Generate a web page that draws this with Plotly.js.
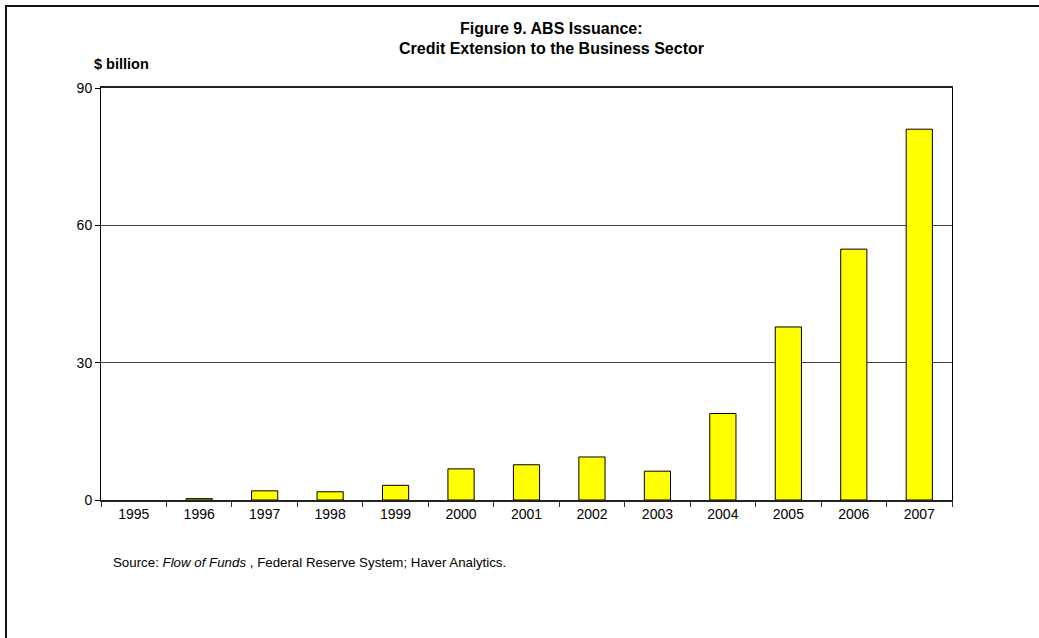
<!DOCTYPE html>
<html>
<head>
<meta charset="utf-8">
<script src="https://cdn.plot.ly/plotly-3.0.1.min.js"></script>
<style>html,body{margin:0;padding:0;background:#fff;}#chart{width:1039px;height:638px;}</style>
</head>
<body>
<div id="chart"></div>
<script>
const years = ["1995","1996","1997","1998","1999","2000","2001","2002","2003","2004","2005","2006","2007"];
const issuance = [0, 0.3, 2.0, 1.8, 3.2, 6.8, 7.7, 9.4, 6.3, 18.9, 37.8, 54.8, 81.0];
const yTicks = [0, 30, 60, 90];
const titleLines = ["Figure 9. ABS Issuance:", "Credit Extension to the Business Sector"];
const unitText = "$ billion";
const sourceText = "Source: <i>Flow of Funds</i> , Federal Reserve System; Haver Analytics.";

const W = 1039, H = 638;
const L = 101, R = 87, T = 88, B = 138;
const pw = W - L - R, ph = H - T - B;
const px = x => (x - L) / pw;
const py = y => (H - B - y) / ph;

const font = "Arial, 'Liberation Sans', sans-serif";
const titleY = [29, 48.5];

Plotly.newPlot("chart", [{
  type: "bar",
  x: years,
  y: issuance,
  marker: {color: "#FFFF00", line: {color: "#000000", width: issuance.map(v => v > 0 ? 1 : 0)}},
  width: 0.4,
  hoverinfo: "x+y"
}], {
  width: W, height: H,
  margin: {l: L, r: R, t: T, b: B, pad: 0},
  paper_bgcolor: "#ffffff",
  plot_bgcolor: "#ffffff",
  showlegend: false,
  font: {family: font, size: 14, color: "#000"},
  xaxis: {
    type: "category",
    range: [-0.5, 12.5],
    tickson: "boundaries",
    ticks: "outside", ticklen: 5, tickcolor: "#333", tickwidth: 1,
    showline: true, linecolor: "#222", linewidth: 2, mirror: true,
    showgrid: false, zeroline: false,
    tickfont: {family: font, size: 14, color: "#000"},
    fixedrange: true
  },
  yaxis: {
    range: [0, 90],
    tickvals: yTicks,
    ticktext: yTicks.map(String),
    ticks: "outside", ticklen: 5, tickcolor: "#000", tickwidth: 1,
    showline: true, linecolor: "#000", linewidth: 1, mirror: true,
    showgrid: true, gridcolor: "#444", gridwidth: 1,
    zeroline: false,
    tickfont: {family: font, size: 14, color: "#000"},
    fixedrange: true
  },
  annotations: titleLines.map((t, i) => ({
    text: "<b>" + t + "</b>", xref: "paper", yref: "paper",
    x: px(551), y: py(titleY[i]), xanchor: "center", yanchor: "middle", showarrow: false,
    font: {family: font, size: 16, color: "#000"}
  })).concat([
    {text: "<b>" + unitText + "</b>", xref: "paper", yref: "paper",
     x: px(92), y: py(64), xanchor: "left", yanchor: "middle", showarrow: false,
     font: {family: font, size: 14.5, color: "#000"}},
    {text: sourceText, xref: "paper", yref: "paper",
     x: px(111), y: py(562), xanchor: "left", yanchor: "middle", showarrow: false,
     font: {family: font, size: 13.3, color: "#000"}}
  ]),
  shapes: [
    {type: "rect", xref: "paper", yref: "paper",
     x0: px(6), x1: px(1100), y0: py(6), y1: py(700),
     line: {color: "#111", width: 2}, fillcolor: "rgba(0,0,0,0)", layer: "below"}
  ]
}, {displayModeBar: false});
</script>
</body>
</html>
